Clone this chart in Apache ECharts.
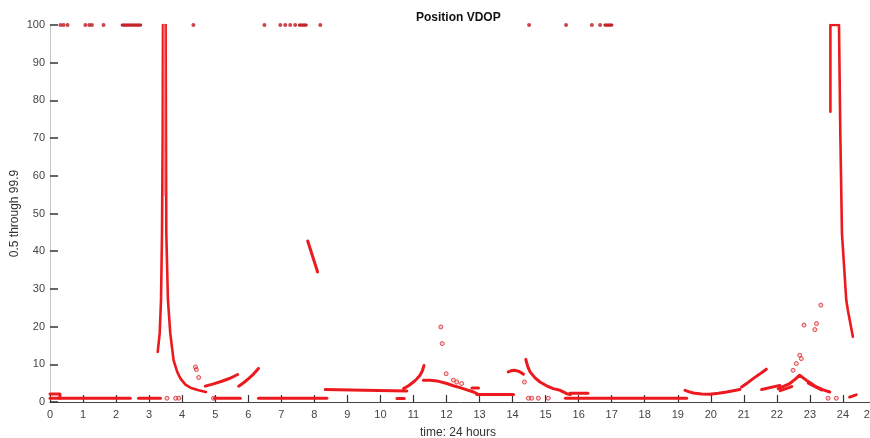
<!DOCTYPE html>
<html>
<head>
<meta charset="utf-8">
<title>Position VDOP</title>
<script src="https://cdn.jsdelivr.net/npm/echarts@6/dist/echarts.min.js"></script>
<style>
  html, body { margin: 0; padding: 0; background: #ffffff; }
  #chart { width: 870px; height: 438px; }
</style>
</head>
<body>
<div id="chart"></div>
<script>
// Axis ticks
const xTicks = [0, 1, 2, 3, 4, 5, 6, 7, 8, 9, 10, 11, 12, 13, 14, 15, 16, 17, 18, 19, 20, 21, 22, 23, 24, 25];
const yTicks = [0, 10, 20, 30, 40, 50, 60, 70, 80, 90, 100];

// VDOP traces: each inner list is one continuous run of samples [hour, vdop]
const baselineRuns = [
  [[0, 1], [2.43, 1]],
  [[0, 2.1], [0.3, 2.1], [0.3, 1]],
  [[2.68, 1], [3.34, 1]],
  [[4.98, 1], [5.76, 1]],
  [[6.31, 1], [8.38, 1]],
  [[10.5, 0.9], [10.72, 0.9]],
  [[15.6, 1], [19.27, 1]],
  [[15.74, 2.3], [16.28, 2.3]],
  [[24.2, 1.3], [24.4, 1.9]]
];

const plateauRuns = [
  [[8.33, 3.3], [9.5, 3.1], [10.8, 2.9]],
  [[12.92, 2.0], [14.03, 2.0]],
  [[12.77, 3.7], [12.97, 3.7]]
];

const morningSpike = [
  [[3.26, 13.3], [3.32, 18.2], [3.36, 27], [3.39, 44.7], [3.41, 70], [3.42, 100], [3.50, 100]],
  [[3.50, 100], [3.51, 70], [3.52, 44.7], [3.57, 27], [3.64, 18.2], [3.74, 11.1], [3.85, 8.0],
   [3.95, 6.2], [4.1, 4.6], [4.25, 3.8], [4.5, 3.1], [4.72, 2.65]]
];

const morningHatch = [
  [[3.46, 100], [3.46, 55]]
];

const dawnArcs = [
  [[4.70, 4.2], [4.95, 4.8], [5.2, 5.5], [5.45, 6.3], [5.68, 7.3]],
  [[5.71, 4.2], [5.86, 5.1], [6.01, 6.2], [6.16, 7.4], [6.31, 8.9]],
  [[7.80, 42.7], [8.10, 34.5]]
];

const middayArcs = [
  [[10.70, 3.55], [10.85, 4.3], [11.0, 5.3], [11.1, 6.1], [11.2, 7.1], [11.27, 8.3], [11.32, 9.7]],
  [[11.3, 5.8], [11.5, 5.8], [11.71, 5.6], [12.01, 4.9], [12.21, 4.3], [12.41, 3.8], [12.62, 3.2], [12.82, 2.65], [12.92, 2.2]],
  [[13.87, 8.0], [13.97, 8.35], [14.08, 8.4], [14.2, 8.1], [14.33, 7.4]],
  [[14.4, 11.3], [14.46, 9.4], [14.53, 8.0], [14.68, 6.4], [14.83, 5.3], [15.03, 4.3], [15.23, 3.55], [15.44, 3.1], [15.64, 2.2], [15.75, 2.0]]
];

const eveningArcs = [
  [[19.22, 3.1], [19.35, 2.7], [19.47, 2.4], [19.72, 2.15], [19.97, 2.05], [20.23, 2.3], [20.48, 2.65], [20.88, 3.3]],
  [[20.93, 4.0], [21.1, 5.0], [21.28, 6.2], [21.48, 7.4], [21.68, 8.7]],
  [[21.54, 3.3], [22.09, 4.4]],
  [[22.04, 3.55], [22.39, 4.9], [22.55, 6.0], [22.69, 7.1], [22.89, 5.8], [23.2, 4.0], [23.4, 3.2], [23.6, 2.65]],
  [[22.1, 3.0], [22.45, 4.1]],
  [[22.95, 5.0], [23.35, 3.2]]
];

const nightSpike = [
  [[23.62, 77], [23.62, 100], [23.88, 100], [23.92, 71.2], [23.97, 44.7], [24.1, 27], [24.15, 24.3], [24.3, 17.3]]
];

// Saturated readings pinned at 100
const topRuns = [
  [[2.19, 100], [2.74, 100]],
  [[7.55, 100], [7.75, 100]],
  [[16.8, 100], [17.0, 100]]
];
const topDotHours = [0.32, 0.41, 0.53, 1.07, 1.19, 1.27, 1.62, 4.34, 6.49, 6.97, 7.12, 7.27, 7.42, 8.18, 14.5, 15.62, 16.4, 16.65];

// Isolated samples
const looseDots = [
  [3.54, 1], [3.80, 1], [3.90, 1], [4.95, 1],
  [4.40, 9.3], [4.43, 8.6], [4.50, 6.5],
  [11.83, 19.9], [11.87, 15.5], [11.99, 7.5], [12.21, 5.8], [12.31, 5.3], [12.46, 4.9],
  [14.36, 5.3], [14.48, 1], [14.58, 1], [14.78, 1], [15.08, 1],
  [22.49, 8.4], [22.59, 10.2], [22.69, 12.4], [22.74, 11.5], [22.82, 20.4],
  [23.15, 19.2], [23.2, 20.8], [23.33, 25.7], [23.55, 1], [23.8, 1]
];

const RED = '#ec1a1f';
const DARK_RED = '#c3242c';
const FONT = 'Liberation Sans, Arial, sans-serif';

function runSeries(runs, color, width, opacity) {
  return runs.map(function (run) {
    return {
      type: 'line',
      data: run,
      showSymbol: false,
      symbol: 'none',
      silent: true,
      lineStyle: { color: color, width: width, opacity: opacity === undefined ? 1 : opacity, cap: 'round', join: 'round' },
      z: 3
    };
  });
}

const series = []
  .concat(runSeries(baselineRuns, RED, 3))
  .concat(runSeries(plateauRuns, RED, 3))
  .concat(runSeries(morningSpike, RED, 2.6))
  .concat(runSeries(morningHatch, '#f07a80', 2.2, 0.8))
  .concat(runSeries(dawnArcs, RED, 3))
  .concat(runSeries(middayArcs, RED, 3))
  .concat(runSeries(eveningArcs, RED, 3))
  .concat(runSeries(nightSpike, RED, 2.6))
  .concat(runSeries(topRuns, DARK_RED, 3.5))
  .concat([
    {
      type: 'scatter',
      data: topDotHours.map(function (h) { return [h, 100]; }),
      symbol: 'circle',
      symbolSize: 4,
      itemStyle: { color: DARK_RED, opacity: 0.85 },
      silent: true,
      z: 4
    },
    {
      type: 'scatter',
      data: looseDots,
      symbol: 'circle',
      symbolSize: 4,
      itemStyle: { color: 'rgba(236,26,31,0.25)', borderColor: '#d8262c', borderWidth: 1 },
      silent: true,
      z: 4
    }
  ]);

const chart = echarts.init(document.getElementById('chart'), null, { renderer: 'canvas' });
chart.setOption({
  animation: false,
  backgroundColor: '#ffffff',
  title: {
    text: 'Position VDOP',
    left: 411,
    top: 7,
    textStyle: { fontFamily: FONT, fontSize: 12, fontWeight: 'bold', color: '#111' }
  },
  grid: { left: 50, right: -6, top: 25, bottom: 36, containLabel: false, outerBoundsMode: 'none' },
  xAxis: {
    type: 'value',
    min: xTicks[0],
    max: xTicks[xTicks.length - 1],
    interval: 1,
    name: 'time: 24 hours',
    nameLocation: 'middle',
    nameGap: 25,
    nameMoveOverlap: false,
    nameTextStyle: { fontFamily: FONT, fontSize: 12, color: '#333', padding: [0, 10, 0, 0] },
    axisLine: { show: true, lineStyle: { color: '#444', width: 1 } },
    axisTick: { show: true, inside: true, length: 7, lineStyle: { color: '#333', width: 1.2 } },
    axisLabel: { margin: 7, fontFamily: FONT, fontSize: 11, color: '#444', showMaxLabel: true, alignMaxLabel: 'right' },
    splitLine: { show: false }
  },
  yAxis: {
    type: 'value',
    min: yTicks[0],
    max: yTicks[yTicks.length - 1],
    interval: 10,
    name: '0.5 through 99.9',
    nameLocation: 'middle',
    nameGap: 29,
    nameMoveOverlap: false,
    nameTextStyle: { fontFamily: FONT, fontSize: 12, color: '#333' },
    axisLine: { show: true, lineStyle: { color: '#c8c8c8', width: 1 } },
    axisTick: { show: true, inside: true, length: 8, lineStyle: { color: '#333', width: 1.5 } },
    axisLabel: { margin: 5, fontFamily: FONT, fontSize: 11, color: '#444' },
    splitLine: { show: false }
  },
  series: series
});
</script>
</body>
</html>
